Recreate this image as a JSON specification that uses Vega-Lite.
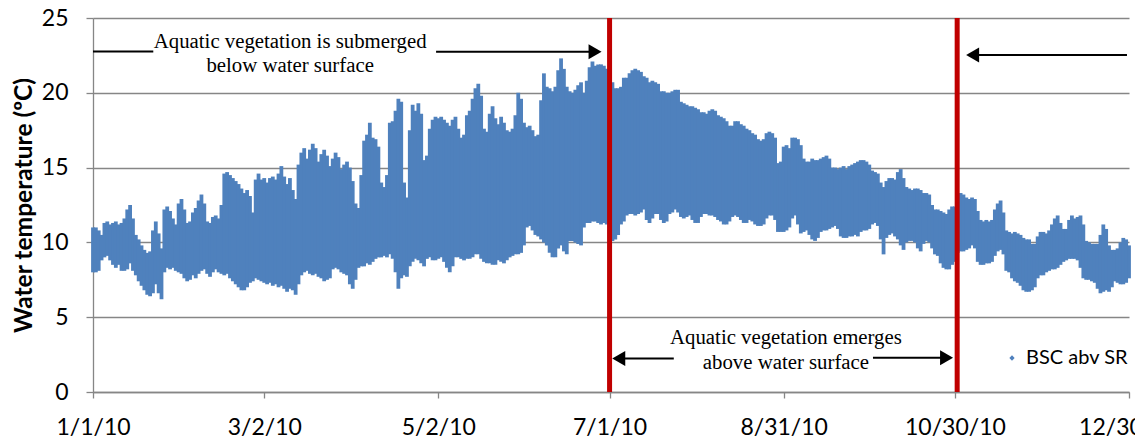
{
"$schema":"https://vega.github.io/schema/vega-lite/v6.json",
"width":1036,"height":374,
"autosize":{"type":"none"},
"padding":{"left":93,"top":18,"right":6,"bottom":48},
"background":"white",
"config":{"view":{"stroke":null}},
"datasets":{
"temp":[
{"d":"2010-01-01","lo":8.0,"hi":11.0},{"d":"2010-01-02","lo":8.0,"hi":11.0},{"d":"2010-01-03","lo":8.1,"hi":10.8},{"d":"2010-01-04","lo":8.8,"hi":10.5},{"d":"2010-01-05","lo":9.0,"hi":11.3},{"d":"2010-01-06","lo":9.1,"hi":11.4},{"d":"2010-01-07","lo":8.8,"hi":11.2},{"d":"2010-01-08","lo":8.5,"hi":11.3},{"d":"2010-01-09","lo":8.3,"hi":11.4},{"d":"2010-01-10","lo":8.5,"hi":11.2},
{"d":"2010-01-11","lo":8.1,"hi":11.3},{"d":"2010-01-12","lo":8.1,"hi":11.6},{"d":"2010-01-13","lo":8.2,"hi":12.2},{"d":"2010-01-14","lo":8.6,"hi":12.5},{"d":"2010-01-15","lo":8.1,"hi":11.6},{"d":"2010-01-16","lo":7.8,"hi":10.5},{"d":"2010-01-17","lo":7.4,"hi":10.2},{"d":"2010-01-18","lo":7.1,"hi":9.8},{"d":"2010-01-19","lo":6.8,"hi":9.5},{"d":"2010-01-20","lo":6.5,"hi":9.3},
{"d":"2010-01-21","lo":6.4,"hi":9.4},{"d":"2010-01-22","lo":6.6,"hi":10.8},{"d":"2010-01-23","lo":7.2,"hi":11.4},{"d":"2010-01-24","lo":6.6,"hi":10.6},{"d":"2010-01-25","lo":6.2,"hi":9.6},{"d":"2010-01-26","lo":8.0,"hi":12.2},{"d":"2010-01-27","lo":8.3,"hi":12.4},{"d":"2010-01-28","lo":8.2,"hi":12.1},{"d":"2010-01-29","lo":8.3,"hi":11.6},{"d":"2010-01-30","lo":8.1,"hi":11.2},
{"d":"2010-01-31","lo":8.0,"hi":12.6},
{"d":"2010-02-01","lo":7.9,"hi":12.9},{"d":"2010-02-02","lo":7.6,"hi":12.2},{"d":"2010-02-03","lo":7.4,"hi":11.3},{"d":"2010-02-04","lo":7.5,"hi":11.4},{"d":"2010-02-05","lo":7.8,"hi":12.0},{"d":"2010-02-06","lo":7.6,"hi":12.3},{"d":"2010-02-07","lo":7.9,"hi":12.8},{"d":"2010-02-08","lo":8.1,"hi":13.2},{"d":"2010-02-09","lo":8.2,"hi":12.6},{"d":"2010-02-10","lo":7.9,"hi":11.4},
{"d":"2010-02-11","lo":7.7,"hi":11.3},{"d":"2010-02-12","lo":8.0,"hi":11.7},{"d":"2010-02-13","lo":8.2,"hi":11.8},{"d":"2010-02-14","lo":8.0,"hi":11.6},{"d":"2010-02-15","lo":7.9,"hi":12.5},{"d":"2010-02-16","lo":7.8,"hi":14.6},{"d":"2010-02-17","lo":7.9,"hi":14.7},{"d":"2010-02-18","lo":7.6,"hi":14.5},{"d":"2010-02-19","lo":7.4,"hi":14.3},{"d":"2010-02-20","lo":7.2,"hi":14.1},
{"d":"2010-02-21","lo":7.0,"hi":13.9},{"d":"2010-02-22","lo":6.8,"hi":13.6},{"d":"2010-02-23","lo":6.8,"hi":13.3},{"d":"2010-02-24","lo":7.0,"hi":13.5},{"d":"2010-02-25","lo":7.3,"hi":13.1},{"d":"2010-02-26","lo":7.4,"hi":12.0},{"d":"2010-02-27","lo":7.6,"hi":14.2},{"d":"2010-02-28","lo":7.5,"hi":14.6},
{"d":"2010-03-01","lo":7.4,"hi":14.2},{"d":"2010-03-02","lo":7.3,"hi":14.3},{"d":"2010-03-03","lo":7.2,"hi":14.0},{"d":"2010-03-04","lo":7.3,"hi":14.3},{"d":"2010-03-05","lo":7.1,"hi":14.4},{"d":"2010-03-06","lo":7.2,"hi":14.2},{"d":"2010-03-07","lo":7.0,"hi":14.6},{"d":"2010-03-08","lo":7.1,"hi":15.1},{"d":"2010-03-09","lo":6.9,"hi":14.4},{"d":"2010-03-10","lo":6.7,"hi":13.9},
{"d":"2010-03-11","lo":6.9,"hi":14.3},{"d":"2010-03-12","lo":6.8,"hi":13.5},{"d":"2010-03-13","lo":6.5,"hi":12.9},{"d":"2010-03-14","lo":7.2,"hi":15.2},{"d":"2010-03-15","lo":7.8,"hi":16.0},{"d":"2010-03-16","lo":8.0,"hi":16.3},{"d":"2010-03-17","lo":8.1,"hi":15.6},{"d":"2010-03-18","lo":7.9,"hi":16.2},{"d":"2010-03-19","lo":7.8,"hi":16.6},{"d":"2010-03-20","lo":7.9,"hi":16.3},
{"d":"2010-03-21","lo":7.7,"hi":15.4},{"d":"2010-03-22","lo":7.6,"hi":15.9},{"d":"2010-03-23","lo":7.4,"hi":16.2},{"d":"2010-03-24","lo":7.5,"hi":15.8},{"d":"2010-03-25","lo":7.6,"hi":15.1},{"d":"2010-03-26","lo":8.2,"hi":15.6},{"d":"2010-03-27","lo":8.3,"hi":16.0},{"d":"2010-03-28","lo":8.2,"hi":15.7},{"d":"2010-03-29","lo":8.0,"hi":14.9},{"d":"2010-03-30","lo":7.9,"hi":15.2},
{"d":"2010-03-31","lo":7.8,"hi":15.4},
{"d":"2010-04-01","lo":7.2,"hi":15.0},{"d":"2010-04-02","lo":6.9,"hi":14.1},{"d":"2010-04-03","lo":7.5,"hi":12.6},{"d":"2010-04-04","lo":8.3,"hi":12.3},{"d":"2010-04-05","lo":8.4,"hi":14.5},{"d":"2010-04-06","lo":8.4,"hi":16.8},{"d":"2010-04-07","lo":8.6,"hi":17.2},{"d":"2010-04-08","lo":8.5,"hi":18.0},{"d":"2010-04-09","lo":8.7,"hi":17.0},{"d":"2010-04-10","lo":8.9,"hi":16.9},
{"d":"2010-04-11","lo":9.0,"hi":16.4},{"d":"2010-04-12","lo":9.0,"hi":14.0},{"d":"2010-04-13","lo":9.1,"hi":13.7},{"d":"2010-04-14","lo":9.0,"hi":14.5},{"d":"2010-04-15","lo":9.2,"hi":18.0},{"d":"2010-04-16","lo":8.9,"hi":18.1},{"d":"2010-04-17","lo":8.0,"hi":18.8},{"d":"2010-04-18","lo":6.9,"hi":19.6},{"d":"2010-04-19","lo":7.6,"hi":19.4},{"d":"2010-04-20","lo":7.8,"hi":14.0},
{"d":"2010-04-21","lo":7.7,"hi":13.0},{"d":"2010-04-22","lo":8.4,"hi":17.5},{"d":"2010-04-23","lo":8.7,"hi":19.2},{"d":"2010-04-24","lo":8.9,"hi":18.8},{"d":"2010-04-25","lo":8.8,"hi":19.3},{"d":"2010-04-26","lo":8.6,"hi":18.6},{"d":"2010-04-27","lo":8.4,"hi":15.5},{"d":"2010-04-28","lo":8.9,"hi":15.8},{"d":"2010-04-29","lo":9.0,"hi":17.6},{"d":"2010-04-30","lo":8.8,"hi":18.2},
{"d":"2010-05-01","lo":8.8,"hi":18.4},{"d":"2010-05-02","lo":8.9,"hi":18.3},{"d":"2010-05-03","lo":9.0,"hi":18.4},{"d":"2010-05-04","lo":8.7,"hi":18.2},{"d":"2010-05-05","lo":8.3,"hi":18.0},{"d":"2010-05-06","lo":8.0,"hi":17.8},{"d":"2010-05-07","lo":8.4,"hi":18.2},{"d":"2010-05-08","lo":9.0,"hi":18.4},{"d":"2010-05-09","lo":9.0,"hi":17.6},{"d":"2010-05-10","lo":8.9,"hi":17.0},
{"d":"2010-05-11","lo":8.8,"hi":17.2},{"d":"2010-05-12","lo":8.9,"hi":18.5},{"d":"2010-05-13","lo":8.9,"hi":18.8},{"d":"2010-05-14","lo":9.0,"hi":19.6},{"d":"2010-05-15","lo":9.2,"hi":20.3},{"d":"2010-05-16","lo":9.2,"hi":20.6},{"d":"2010-05-17","lo":8.9,"hi":19.8},{"d":"2010-05-18","lo":8.7,"hi":17.6},{"d":"2010-05-19","lo":8.6,"hi":17.4},{"d":"2010-05-20","lo":8.6,"hi":18.6},
{"d":"2010-05-21","lo":8.5,"hi":19.1},{"d":"2010-05-22","lo":8.5,"hi":18.3},{"d":"2010-05-23","lo":8.8,"hi":17.9},{"d":"2010-05-24","lo":8.7,"hi":18.4},{"d":"2010-05-25","lo":8.6,"hi":18.0},{"d":"2010-05-26","lo":8.8,"hi":17.5},{"d":"2010-05-27","lo":9.0,"hi":17.4},{"d":"2010-05-28","lo":9.1,"hi":17.6},{"d":"2010-05-29","lo":9.2,"hi":18.5},{"d":"2010-05-30","lo":9.2,"hi":20.0},
{"d":"2010-05-31","lo":9.3,"hi":19.6},
{"d":"2010-06-01","lo":9.8,"hi":18.0},{"d":"2010-06-02","lo":11.0,"hi":17.7},{"d":"2010-06-03","lo":11.1,"hi":17.8},{"d":"2010-06-04","lo":10.8,"hi":17.5},{"d":"2010-06-05","lo":10.5,"hi":17.1},{"d":"2010-06-06","lo":10.4,"hi":17.2},{"d":"2010-06-07","lo":10.2,"hi":19.5},{"d":"2010-06-08","lo":10.0,"hi":21.3},{"d":"2010-06-09","lo":9.8,"hi":20.4},{"d":"2010-06-10","lo":9.3,"hi":20.3},
{"d":"2010-06-11","lo":9.0,"hi":20.1},{"d":"2010-06-12","lo":9.0,"hi":20.4},{"d":"2010-06-13","lo":9.6,"hi":21.5},{"d":"2010-06-14","lo":9.8,"hi":22.3},{"d":"2010-06-15","lo":9.4,"hi":21.6},{"d":"2010-06-16","lo":9.2,"hi":20.4},{"d":"2010-06-17","lo":10.1,"hi":20.1},{"d":"2010-06-18","lo":10.1,"hi":20.0},{"d":"2010-06-19","lo":10.0,"hi":20.2},{"d":"2010-06-20","lo":9.9,"hi":20.5},
{"d":"2010-06-21","lo":9.8,"hi":20.7},{"d":"2010-06-22","lo":11.0,"hi":20.0},{"d":"2010-06-23","lo":11.3,"hi":20.8},{"d":"2010-06-24","lo":11.3,"hi":21.7},{"d":"2010-06-25","lo":11.4,"hi":22.1},{"d":"2010-06-26","lo":11.4,"hi":21.8},{"d":"2010-06-27","lo":11.3,"hi":21.9},{"d":"2010-06-28","lo":11.2,"hi":21.9},{"d":"2010-06-29","lo":11.3,"hi":21.8},{"d":"2010-06-30","lo":11.2,"hi":21.6},
{"d":"2010-07-01","lo":10.1,"hi":20.8},{"d":"2010-07-02","lo":10.1,"hi":20.7},{"d":"2010-07-03","lo":10.2,"hi":20.3},{"d":"2010-07-04","lo":10.5,"hi":20.3},{"d":"2010-07-05","lo":11.2,"hi":20.4},{"d":"2010-07-06","lo":11.4,"hi":21.0},{"d":"2010-07-07","lo":11.8,"hi":21.0},{"d":"2010-07-08","lo":11.9,"hi":21.3},{"d":"2010-07-09","lo":11.9,"hi":21.5},{"d":"2010-07-10","lo":11.8,"hi":21.6},
{"d":"2010-07-11","lo":11.9,"hi":21.5},{"d":"2010-07-12","lo":12.0,"hi":21.4},{"d":"2010-07-13","lo":12.2,"hi":21.1},{"d":"2010-07-14","lo":11.5,"hi":21.0},{"d":"2010-07-15","lo":11.3,"hi":20.7},{"d":"2010-07-16","lo":11.6,"hi":20.8},{"d":"2010-07-17","lo":11.9,"hi":20.7},{"d":"2010-07-18","lo":11.9,"hi":20.6},{"d":"2010-07-19","lo":11.5,"hi":20.1},{"d":"2010-07-20","lo":11.3,"hi":20.1},
{"d":"2010-07-21","lo":11.4,"hi":20.0},{"d":"2010-07-22","lo":11.9,"hi":20.0},{"d":"2010-07-23","lo":12.0,"hi":20.1},{"d":"2010-07-24","lo":12.2,"hi":20.2},{"d":"2010-07-25","lo":12.0,"hi":20.2},{"d":"2010-07-26","lo":11.7,"hi":19.4},{"d":"2010-07-27","lo":11.6,"hi":19.3},{"d":"2010-07-28","lo":11.7,"hi":19.2},{"d":"2010-07-29","lo":11.8,"hi":19.1},{"d":"2010-07-30","lo":11.5,"hi":19.1},
{"d":"2010-07-31","lo":11.3,"hi":19.0},
{"d":"2010-08-01","lo":11.3,"hi":18.9},{"d":"2010-08-02","lo":11.7,"hi":18.7},{"d":"2010-08-03","lo":11.9,"hi":18.7},{"d":"2010-08-04","lo":11.9,"hi":18.6},{"d":"2010-08-05","lo":11.8,"hi":18.8},{"d":"2010-08-06","lo":11.8,"hi":18.9},{"d":"2010-08-07","lo":11.7,"hi":18.8},{"d":"2010-08-08","lo":11.5,"hi":18.5},{"d":"2010-08-09","lo":11.4,"hi":18.4},{"d":"2010-08-10","lo":11.2,"hi":18.3},
{"d":"2010-08-11","lo":11.2,"hi":18.1},{"d":"2010-08-12","lo":11.4,"hi":17.8},{"d":"2010-08-13","lo":11.7,"hi":17.8},{"d":"2010-08-14","lo":11.8,"hi":18.1},{"d":"2010-08-15","lo":11.7,"hi":18.1},{"d":"2010-08-16","lo":11.5,"hi":17.9},{"d":"2010-08-17","lo":11.3,"hi":17.8},{"d":"2010-08-18","lo":11.3,"hi":17.6},{"d":"2010-08-19","lo":11.5,"hi":17.5},{"d":"2010-08-20","lo":11.4,"hi":17.3},
{"d":"2010-08-21","lo":11.2,"hi":17.2},{"d":"2010-08-22","lo":11.1,"hi":16.9},{"d":"2010-08-23","lo":11.1,"hi":16.8},{"d":"2010-08-24","lo":11.2,"hi":16.9},{"d":"2010-08-25","lo":11.6,"hi":17.3},{"d":"2010-08-26","lo":11.8,"hi":17.4},{"d":"2010-08-27","lo":11.8,"hi":17.3},{"d":"2010-08-28","lo":11.5,"hi":17.0},{"d":"2010-08-29","lo":10.7,"hi":15.3},{"d":"2010-08-30","lo":10.7,"hi":15.4},
{"d":"2010-08-31","lo":10.7,"hi":16.4},
{"d":"2010-09-01","lo":10.8,"hi":16.5},{"d":"2010-09-02","lo":11.0,"hi":16.3},{"d":"2010-09-03","lo":11.6,"hi":17.0},{"d":"2010-09-04","lo":11.8,"hi":17.0},{"d":"2010-09-05","lo":11.2,"hi":16.9},{"d":"2010-09-06","lo":10.6,"hi":16.5},{"d":"2010-09-07","lo":10.7,"hi":15.6},{"d":"2010-09-08","lo":10.8,"hi":15.4},{"d":"2010-09-09","lo":10.5,"hi":15.4},{"d":"2010-09-10","lo":10.2,"hi":15.6},
{"d":"2010-09-11","lo":10.1,"hi":15.5},{"d":"2010-09-12","lo":10.3,"hi":15.5},{"d":"2010-09-13","lo":10.7,"hi":15.6},{"d":"2010-09-14","lo":10.8,"hi":15.7},{"d":"2010-09-15","lo":10.8,"hi":15.8},{"d":"2010-09-16","lo":10.9,"hi":15.6},{"d":"2010-09-17","lo":11.0,"hi":15.0},{"d":"2010-09-18","lo":11.1,"hi":15.0},{"d":"2010-09-19","lo":10.9,"hi":14.9},{"d":"2010-09-20","lo":10.4,"hi":15.0},
{"d":"2010-09-21","lo":10.3,"hi":15.1},{"d":"2010-09-22","lo":10.3,"hi":14.9},{"d":"2010-09-23","lo":10.4,"hi":15.1},{"d":"2010-09-24","lo":10.4,"hi":15.2},{"d":"2010-09-25","lo":10.5,"hi":15.3},{"d":"2010-09-26","lo":10.4,"hi":15.4},{"d":"2010-09-27","lo":10.7,"hi":15.5},{"d":"2010-09-28","lo":10.8,"hi":15.5},{"d":"2010-09-29","lo":10.8,"hi":15.4},{"d":"2010-09-30","lo":10.9,"hi":15.2},
{"d":"2010-10-01","lo":11.2,"hi":14.8},{"d":"2010-10-02","lo":11.3,"hi":14.7},{"d":"2010-10-03","lo":11.1,"hi":14.6},{"d":"2010-10-04","lo":10.2,"hi":14.0},{"d":"2010-10-05","lo":9.2,"hi":13.7},{"d":"2010-10-06","lo":10.3,"hi":14.1},{"d":"2010-10-07","lo":10.5,"hi":14.3},{"d":"2010-10-08","lo":10.6,"hi":14.3},{"d":"2010-10-09","lo":10.4,"hi":14.2},{"d":"2010-10-10","lo":10.2,"hi":14.7},
{"d":"2010-10-11","lo":9.8,"hi":14.9},{"d":"2010-10-12","lo":9.5,"hi":14.3},{"d":"2010-10-13","lo":10.0,"hi":13.7},{"d":"2010-10-14","lo":10.1,"hi":13.6},{"d":"2010-10-15","lo":10.1,"hi":13.5},{"d":"2010-10-16","lo":10.0,"hi":13.6},{"d":"2010-10-17","lo":9.6,"hi":13.6},{"d":"2010-10-18","lo":9.4,"hi":13.5},{"d":"2010-10-19","lo":9.9,"hi":13.3},{"d":"2010-10-20","lo":10.1,"hi":13.3},
{"d":"2010-10-21","lo":10.0,"hi":13.2},{"d":"2010-10-22","lo":9.6,"hi":12.5},{"d":"2010-10-23","lo":9.2,"hi":12.2},{"d":"2010-10-24","lo":9.1,"hi":12.2},{"d":"2010-10-25","lo":8.6,"hi":12.1},{"d":"2010-10-26","lo":8.3,"hi":12.0},{"d":"2010-10-27","lo":8.2,"hi":11.9},{"d":"2010-10-28","lo":8.2,"hi":12.2},{"d":"2010-10-29","lo":8.5,"hi":12.4},{"d":"2010-10-30","lo":8.7,"hi":12.4},
{"d":"2010-10-31","lo":9.3,"hi":13.2},
{"d":"2010-11-01","lo":9.4,"hi":13.3},{"d":"2010-11-02","lo":9.4,"hi":13.2},{"d":"2010-11-03","lo":9.5,"hi":13.0},{"d":"2010-11-04","lo":9.6,"hi":12.9},{"d":"2010-11-05","lo":9.8,"hi":13.0},{"d":"2010-11-06","lo":9.6,"hi":12.9},{"d":"2010-11-07","lo":8.7,"hi":12.1},{"d":"2010-11-08","lo":8.5,"hi":11.5},{"d":"2010-11-09","lo":8.5,"hi":11.4},{"d":"2010-11-10","lo":8.6,"hi":11.5},
{"d":"2010-11-11","lo":8.6,"hi":11.4},{"d":"2010-11-12","lo":8.7,"hi":11.5},{"d":"2010-11-13","lo":9.1,"hi":12.2},{"d":"2010-11-14","lo":9.4,"hi":12.6},{"d":"2010-11-15","lo":9.5,"hi":12.8},{"d":"2010-11-16","lo":9.2,"hi":12.0},{"d":"2010-11-17","lo":8.1,"hi":10.8},{"d":"2010-11-18","lo":8.0,"hi":10.7},{"d":"2010-11-19","lo":7.6,"hi":10.6},{"d":"2010-11-20","lo":7.4,"hi":10.7},
{"d":"2010-11-21","lo":7.3,"hi":10.6},{"d":"2010-11-22","lo":7.1,"hi":10.5},{"d":"2010-11-23","lo":6.8,"hi":10.3},{"d":"2010-11-24","lo":6.7,"hi":10.2},{"d":"2010-11-25","lo":6.7,"hi":10.2},{"d":"2010-11-26","lo":6.8,"hi":9.9},{"d":"2010-11-27","lo":7.0,"hi":9.9},{"d":"2010-11-28","lo":7.6,"hi":10.4},{"d":"2010-11-29","lo":7.8,"hi":10.7},{"d":"2010-11-30","lo":7.8,"hi":10.7},
{"d":"2010-12-01","lo":8.0,"hi":10.6},{"d":"2010-12-02","lo":8.1,"hi":10.8},{"d":"2010-12-03","lo":8.2,"hi":11.2},{"d":"2010-12-04","lo":8.2,"hi":11.6},{"d":"2010-12-05","lo":8.3,"hi":11.8},{"d":"2010-12-06","lo":8.5,"hi":11.3},{"d":"2010-12-07","lo":8.7,"hi":10.9},{"d":"2010-12-08","lo":8.8,"hi":10.9},{"d":"2010-12-09","lo":8.9,"hi":11.5},{"d":"2010-12-10","lo":8.9,"hi":11.8},
{"d":"2010-12-11","lo":8.9,"hi":11.6},{"d":"2010-12-12","lo":8.8,"hi":11.7},{"d":"2010-12-13","lo":8.3,"hi":11.8},{"d":"2010-12-14","lo":7.6,"hi":11.2},{"d":"2010-12-15","lo":7.5,"hi":10.1},{"d":"2010-12-16","lo":7.5,"hi":10.0},{"d":"2010-12-17","lo":7.4,"hi":9.9},{"d":"2010-12-18","lo":7.3,"hi":9.9},{"d":"2010-12-19","lo":6.9,"hi":9.9},{"d":"2010-12-20","lo":6.6,"hi":10.5},
{"d":"2010-12-21","lo":6.7,"hi":11.2},{"d":"2010-12-22","lo":6.8,"hi":10.9},{"d":"2010-12-23","lo":6.7,"hi":9.8},{"d":"2010-12-24","lo":7.0,"hi":9.5},{"d":"2010-12-25","lo":7.4,"hi":9.5},{"d":"2010-12-26","lo":7.3,"hi":9.6},{"d":"2010-12-27","lo":7.2,"hi":10.0},{"d":"2010-12-28","lo":7.2,"hi":10.3},{"d":"2010-12-29","lo":7.3,"hi":10.2},{"d":"2010-12-30","lo":7.6,"hi":9.8}
],
"redlines":[{"d":"2010-07-01T00:00:00Z"},{"d":"2010-10-30T19:00:00Z"}],
"lines":[
{"d":"2010-01-01T00:00:00Z","d2":"2010-01-22T03:00:00Z","lo":22.76},
{"d":"2010-05-01T05:00:00Z","d2":"2010-06-26T07:00:00Z","lo":22.75},
{"d":"2010-07-03T14:00:00Z","d2":"2010-07-23T12:00:00Z","lo":2.24},
{"d":"2010-10-01T07:00:00Z","d2":"2010-10-27T14:00:00Z","lo":2.29},
{"d":"2010-11-04T14:00:00Z","d2":"2010-12-29T07:00:00Z","lo":22.53}
],
"heads":[
{"d":"2010-06-25T22:00:00Z","lo":22.75,"s":"triangle-right"},
{"d":"2010-07-04T05:00:00Z","lo":2.24,"s":"triangle-left"},
{"d":"2010-10-27T02:00:00Z","lo":2.29,"s":"triangle-right"},
{"d":"2010-11-05T05:00:00Z","lo":22.53,"s":"triangle-left"}
],
"notes":[
{"d":"2010-03-11T02:00:00Z","lo":23.0,"t":"Aquatic vegetation is submerged"},
{"d":"2010-03-11T02:00:00Z","lo":21.4,"t":"below water surface"},
{"d":"2010-08-31T19:00:00Z","lo":3.23,"t":"Aquatic vegetation emerges"},
{"d":"2010-08-31T19:00:00Z","lo":1.57,"t":"above water surface"}
]
},
"layer":[
{
"data":{"name":"temp"},
"mark":{"type":"rule","strokeWidth":3.8},
"encoding":{
"x":{"field":"d","type":"temporal",
"scale":{"type":"utc","domain":[{"year":2010,"month":1,"date":1,"utc":true},{"year":2010,"month":12,"date":30,"utc":true}]},
"axis":{"title":null,"grid":false,
"values":[{"year":2010,"month":1,"date":1,"utc":true},{"year":2010,"month":3,"date":2,"utc":true},{"year":2010,"month":5,"date":2,"utc":true},{"year":2010,"month":7,"date":1,"utc":true},{"year":2010,"month":8,"date":31,"utc":true},{"year":2010,"month":10,"date":30,"utc":true},{"year":2010,"month":12,"date":30,"utc":true}],
"labelExpr":"utcFormat(datum.value, '%-m/%-d/%y')",
"labelFont":"Lato","labelFontSize":23,"labelColor":"#000000","labelPadding":18,"labelFlush":false,"labelOverlap":false,"labelBound":false,
"tickSize":6,"tickColor":"#868686","tickWidth":1.3,"domainColor":"#868686","domainWidth":1.3}},
"y":{"field":"lo","type":"quantitative","scale":{"domain":[0,25],"nice":false,"zero":true},
"axis":{"title":"Water temperature (ºC)","values":[0,5,10,15,20,25],
"grid":true,"gridColor":"#868686","gridWidth":1.3,
"labelFont":"Lato","labelFontSize":23,"labelColor":"#000000","labelPadding":18,
"tickSize":7,"tickColor":"#868686","tickWidth":1.3,"domainColor":"#868686","domainWidth":1.3,
"titleFont":"Lato","titleFontSize":24.6,"titleFontWeight":"bold","titleColor":"#000000","titlePadding":5}},
"y2":{"field":"hi"},
"color":{"datum":"BSC abv SR","type":"nominal","scale":{"range":["#4F81BD"]},
"legend":{"orient":"none","legendX":909,"legendY":330,"title":null,"padding":0,
"symbolType":"diamond","symbolSize":28,"symbolFillColor":"#4F81BD","symbolStrokeWidth":0,
"labelFont":"Lato","labelFontSize":20,"labelColor":"#000000","labelOffset":4,
"encode":{"symbols":{"update":{"fill":{"value":"#4F81BD"},"shape":{"value":"diamond"},"strokeWidth":{"value":0}}}}}}
}
},
{
"data":{"name":"redlines"},
"mark":{"type":"rule","color":"#C00000","strokeWidth":5},
"encoding":{"x":{"field":"d","type":"temporal","scale":{"type":"utc"}}}
},
{
"data":{"name":"lines"},
"mark":{"type":"rule","color":"#000000","strokeWidth":2},
"encoding":{"x":{"field":"d","type":"temporal","scale":{"type":"utc"}},"x2":{"field":"d2"},"y":{"field":"lo","type":"quantitative"}}
},
{
"data":{"name":"heads"},
"mark":{"type":"point","filled":true,"color":"#000000","size":225,"opacity":1,"strokeWidth":0},
"encoding":{"x":{"field":"d","type":"temporal","scale":{"type":"utc"}},"y":{"field":"lo","type":"quantitative"},"shape":{"field":"s","type":"nominal","scale":null,"legend":null}}
},
{
"data":{"name":"notes"},
"mark":{"type":"text","font":"Liberation Serif","fontSize":20.8,"align":"center","baseline":"alphabetic","color":"#000000"},
"encoding":{"x":{"field":"d","type":"temporal","scale":{"type":"utc"}},"y":{"field":"lo","type":"quantitative"},"text":{"field":"t","type":"nominal"}}
}
]
}
